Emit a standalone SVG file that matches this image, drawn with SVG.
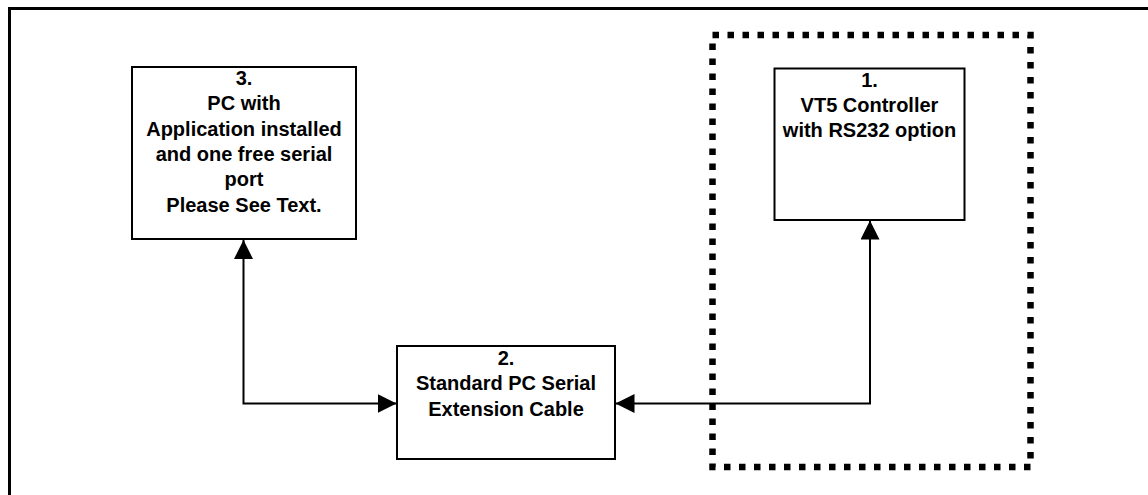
<svg xmlns="http://www.w3.org/2000/svg" width="1148" height="495" viewBox="0 0 1148 495">
<defs>
<style>
.box{fill:#fff;stroke:#000;stroke-width:2}
.lbl{font-family:"Liberation Sans",Arial,sans-serif;font-weight:bold;font-size:20px;text-anchor:middle;fill:#000}
.conn{fill:none;stroke:#000;stroke-width:2;marker-start:url(#ah);marker-end:url(#ah)}
</style>
<marker id="ah" markerUnits="userSpaceOnUse" markerWidth="20" markerHeight="20" refX="19" refY="9.5" orient="auto-start-reverse">
<path d="M0,0 L19,9.5 L0,19 z" fill="#000"/>
</marker>
</defs>
<rect width="1148" height="495" fill="#fff"/>
<path d="M9.5 495 V8.5 H1148" fill="none" stroke="#000" stroke-width="3"/>
<g id="boundary">
<rect x="712.5" y="35" width="318" height="432" fill="none" stroke="#000" stroke-width="6.5" stroke-dasharray="6.5 8.5"/>
</g>
<g id="connectors">
<path class="conn" d="M243.5 240 V403.5 H396.5"/>
<path class="conn" d="M615.5 403.5 H870 V220.5"/>
</g>
<g id="node3">
<rect class="box" x="132" y="67" width="224" height="172"/>
<text class="lbl" x="244" y="85">3.</text>
<text class="lbl" x="244" y="110.3">PC with</text>
<text class="lbl" x="244" y="135.6">Application installed</text>
<text class="lbl" x="244" y="160.9">and one free serial</text>
<text class="lbl" x="244" y="186.2">port</text>
<text class="lbl" x="244" y="211.5">Please See Text.</text>
</g>
<g id="node1">
<rect class="box" x="774.5" y="68.5" width="190" height="151.5"/>
<text class="lbl" x="869.5" y="86.7">1.</text>
<text class="lbl" x="869.5" y="112">VT5 Controller</text>
<text class="lbl" x="869.5" y="137.3">with RS232 option</text>
</g>
<g id="node2">
<rect class="box" x="397" y="346" width="218" height="113"/>
<text class="lbl" x="506" y="365">2.</text>
<text class="lbl" x="506" y="390.3">Standard PC Serial</text>
<text class="lbl" x="506" y="415.6">Extension Cable</text>
</g>
</svg>
